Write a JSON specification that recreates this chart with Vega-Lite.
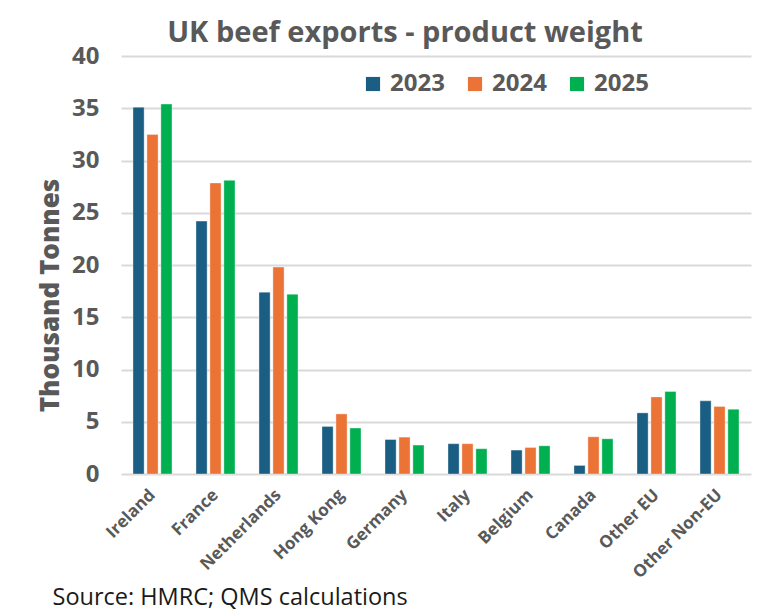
{
  "$schema": "https://vega.github.io/schema/vega-lite/v6.json",
  "autosize": {"type": "none"},
  "width": 630,
  "height": 418,
  "padding": {"left": 121, "top": 56, "right": 13, "bottom": 137},
  "background": "white",
  "title": {
    "text": "UK beef exports - product weight",
    "font": "Open Sans",
    "fontSize": 29,
    "fontWeight": "bold",
    "color": "#595959",
    "anchor": "middle",
    "frame": "group",
    "dx": -31,
    "dy": 14,
    "offset": 10
  },
  "data": {
    "values": [
      {"country": "Ireland", "year": "2023", "value": 35.1},
      {"country": "Ireland", "year": "2024", "value": 32.5},
      {"country": "Ireland", "year": "2025", "value": 35.4},
      {"country": "France", "year": "2023", "value": 24.2},
      {"country": "France", "year": "2024", "value": 27.85},
      {"country": "France", "year": "2025", "value": 28.1},
      {"country": "Netherlands", "year": "2023", "value": 17.4},
      {"country": "Netherlands", "year": "2024", "value": 19.8},
      {"country": "Netherlands", "year": "2025", "value": 17.2},
      {"country": "Hong Kong", "year": "2023", "value": 4.55},
      {"country": "Hong Kong", "year": "2024", "value": 5.75},
      {"country": "Hong Kong", "year": "2025", "value": 4.4},
      {"country": "Germany", "year": "2023", "value": 3.3},
      {"country": "Germany", "year": "2024", "value": 3.53},
      {"country": "Germany", "year": "2025", "value": 2.77},
      {"country": "Italy", "year": "2023", "value": 2.9},
      {"country": "Italy", "year": "2024", "value": 2.9},
      {"country": "Italy", "year": "2025", "value": 2.42},
      {"country": "Belgium", "year": "2023", "value": 2.29},
      {"country": "Belgium", "year": "2024", "value": 2.54},
      {"country": "Belgium", "year": "2025", "value": 2.7},
      {"country": "Canada", "year": "2023", "value": 0.82},
      {"country": "Canada", "year": "2024", "value": 3.56},
      {"country": "Canada", "year": "2025", "value": 3.37},
      {"country": "Other EU", "year": "2023", "value": 5.85},
      {"country": "Other EU", "year": "2024", "value": 7.38},
      {"country": "Other EU", "year": "2025", "value": 7.89},
      {"country": "Other Non-EU", "year": "2023", "value": 7.0},
      {"country": "Other Non-EU", "year": "2024", "value": 6.46},
      {"country": "Other Non-EU", "year": "2025", "value": 6.2}
    ]
  },
  "mark": {"type": "bar", "stroke": "white", "strokeWidth": 0.6, "strokeOpacity": 0.6},
  "encoding": {
    "x": {
      "field": "country",
      "type": "nominal",
      "sort": null,
      "scale": {"paddingInner": 0.38, "paddingOuter": 0.19},
      "axis": {
        "title": "Source: HMRC; QMS calculations",
        "titleFont": "Open Sans",
        "titleFontSize": 23.5,
        "titleFontWeight": "normal",
        "titleColor": "#1a1a1a",
        "titleAnchor": "start",
        "titleAlign": "left",
        "titleBaseline": "alphabetic",
        "titleX": -69,
        "titleY": 130,
        "labelAngle": -45,
        "labelAlign": "right",
        "labelBaseline": "middle",
        "labelFont": "Open Sans",
        "labelFontSize": 17,
        "labelFontWeight": "bold",
        "labelColor": "#595959",
        "labelPadding": 18,
        "ticks": false,
        "domain": false,
        "grid": false
      }
    },
    "xOffset": {
      "field": "year",
      "type": "nominal",
      "scale": {"paddingInner": 0.2, "paddingOuter": 0}
    },
    "y": {
      "field": "value",
      "type": "quantitative",
      "scale": {"domain": [0, 40]},
      "axis": {
        "title": "Thousand Tonnes",
        "titleFont": "Open Sans",
        "titleFontSize": 26,
        "titleFontWeight": 800,
        "titleColor": "#595959",
        "titlePadding": 8,
        "titleY": 239,
        "values": [0, 5, 10, 15, 20, 25, 30, 35, 40],
        "labelFont": "Open Sans",
        "labelFontSize": 24,
        "labelFontWeight": "bold",
        "labelColor": "#595959",
        "labelPadding": 22,
        "ticks": false,
        "domain": false,
        "grid": true,
        "gridColor": "#d9d9d9",
        "gridWidth": 2
      }
    },
    "color": {
      "field": "year",
      "type": "nominal",
      "scale": {"domain": ["2023", "2024", "2025"], "range": ["#1B5E84", "#EB7335", "#00B050"]},
      "legend": {
        "title": null,
        "orient": "none",
        "direction": "horizontal",
        "legendX": 240,
        "legendY": 16,
        "symbolType": "square",
        "symbolSize": 200,
        "symbolStrokeWidth": 0,
        "labelFont": "Open Sans",
        "labelFontSize": 24,
        "labelFontWeight": "bold",
        "labelColor": "#595959",
        "columnPadding": 18,
        "labelOffset": 5
      }
    }
  },
  "config": {"view": {"stroke": null}}
}
